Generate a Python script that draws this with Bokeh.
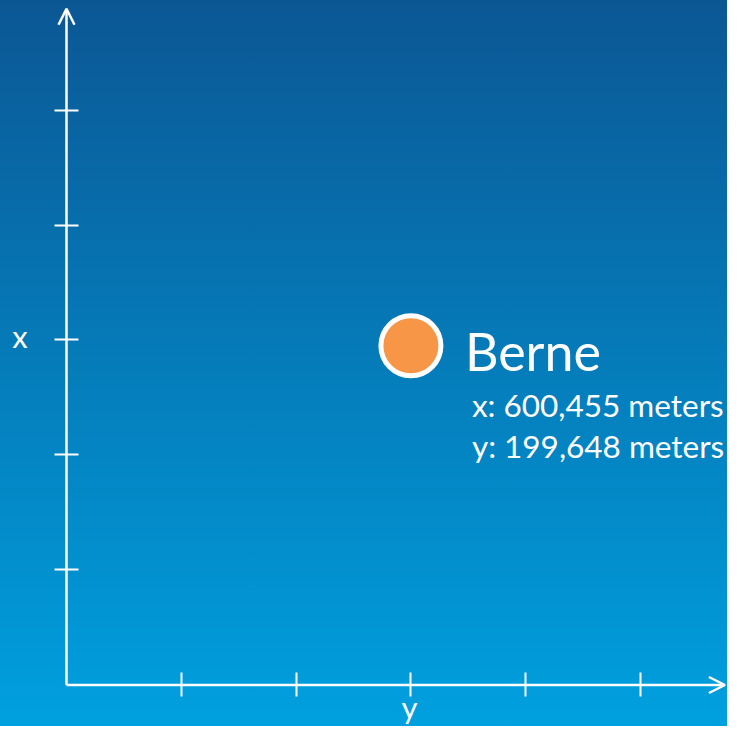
from bokeh.plotting import figure
from bokeh.models import FixedTicker, Arrow, OpenHead, Range1d, ColumnDataSource
from bokeh.core.properties import value
from bokeh.embed import file_html
from bokeh.resources import INLINE

# ---- data ----
city = ["Berne"]
pos_east = [3.0]
pos_north = [2.95]
coord_x = ["600,455"]
coord_y = ["199,648"]
tick_values = [1, 2, 3, 4, 5]
axis_names = ["x", "y"]          # vertical axis name, horizontal axis name
axis_name_anchor = [3, 3]        # tick each axis name sits beside
horizontal_axis_end = 5.735
vertical_axis_end = 5.88

W, H = 727, 726
p = figure(width=W, height=H, output_backend="svg", toolbar_location=None,
           x_range=Range1d(-0.5749, 5.7578), y_range=Range1d(-0.3609, 5.9522),
           min_border=0)
p.background_fill_color = None
p.border_fill_color = None
p.outline_line_color = None
p.grid.visible = False
p.styles = {"background": "linear-gradient(180deg, #0b5794 0%, #0679b7 46%, #00a0df 100%)"}

for ax in (p.xaxis[0], p.yaxis[0]):
    ax.fixed_location = 0
    ax.ticker = FixedTicker(ticks=tick_values)
    ax.axis_line_color = None
    ax.major_tick_line_color = "white"
    ax.major_tick_line_width = 2
    ax.major_tick_in = 12
    ax.major_tick_out = 12
    ax.minor_tick_line_color = None
    ax.minor_tick_in = 0
    ax.minor_tick_out = 0
    ax.major_label_text_font_size = "0px"
    ax.major_label_standoff = 0
    ax.major_label_overrides = {t: "" for t in tick_values}

p.add_layout(Arrow(x_start=0, y_start=0, x_end=horizontal_axis_end, y_end=0,
                   line_color="white", line_width=2.5,
                   end=OpenHead(size=16, line_color="white", line_width=2.5)))
p.add_layout(Arrow(x_start=0, y_start=0, x_end=0, y_end=vertical_axis_end,
                   line_color="white", line_width=2.5,
                   end=OpenHead(size=16, line_color="white", line_width=2.5)))

# axis names
p.text(x=[0], y=[axis_name_anchor[0]], text=[axis_names[0]], x_offset=-46.5, y_offset=-4,
       text_font=value("Lato"), text_font_size="31px", text_color="white",
       text_baseline="alphabetic", text_align="center")
p.text(x=[axis_name_anchor[1]], y=[0], text=[axis_names[1]], x_offset=-1.5, y_offset=41,
       text_font=value("Lato"), text_font_size="31px", text_color="white",
       text_baseline="bottom", text_align="center")

src = ColumnDataSource(dict(
    east=pos_east, north=pos_north, name=city,
    lx=["x: " + c + " meters" for c in coord_x],
    ly=["y: " + c + " meters" for c in coord_y],
))

p.scatter(x="east", y="north", source=src, size=60, fill_color="#f79646",
          line_color="white", line_width=5)

p.text(x="east", y="north", text="name", source=src, x_offset=54, y_offset=5,
       text_font=value("Lato"), text_font_size="52px", text_color="white",
       text_baseline="alphabetic", text_align="left")
p.text(x="east", y="north", text="lx", source=src, x_offset=61, y_offset=59,
       text_font=value("Lato"), text_font_size="31.5px", text_color="white",
       text_baseline="alphabetic", text_align="left")
p.text(x="east", y="north", text="ly", source=src, x_offset=61, y_offset=100,
       text_font=value("Lato"), text_font_size="31.5px", text_color="white",
       text_baseline="alphabetic", text_align="left")

open("out.html", "w").write(file_html(p, INLINE))
